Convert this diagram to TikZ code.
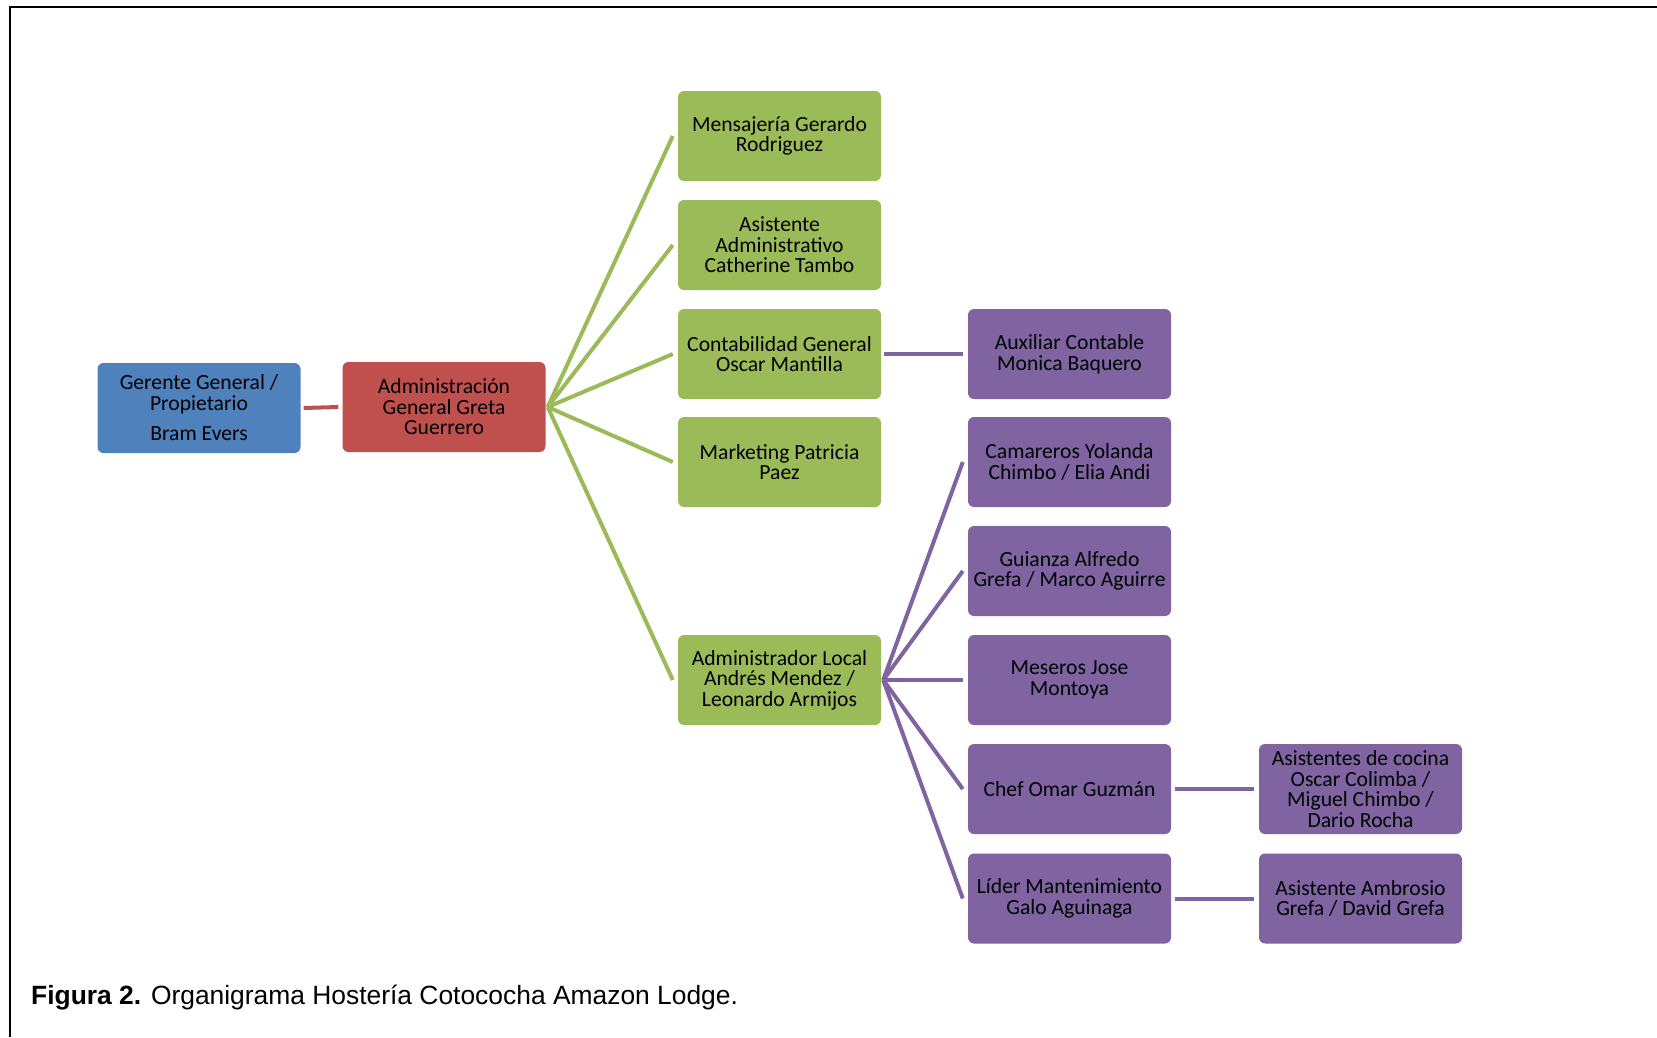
\documentclass[tikz,border=0pt]{standalone}
\usepackage{fontspec}
\setmainfont{Carlito}
\newfontfamily\capfont{Liberation Sans}
\usetikzlibrary{calc}

\definecolor{cblue}{HTML}{4F81BD}
\definecolor{cred}{HTML}{C0504D}
\definecolor{cgreen}{HTML}{9BBB59}
\definecolor{cpurple}{HTML}{8064A2}

\tikzset{
  orgbox/.style={rounded corners=6bp, minimum width=203bp, minimum height=90bp,
    inner xsep=0bp, inner ysep=2bp, align=center, text=black,
    font=\fontsize{21.7}{20.6}\selectfont},
  bluebox/.style={orgbox, fill=cblue},
  redbox/.style={orgbox, fill=cred},
  greenbox/.style={orgbox, fill=cgreen},
  purplebox/.style={orgbox, fill=cpurple},
  link/.style={line width=4bp},
  redlink/.style={link, draw=cred},
  greenlink/.style={link, draw=cgreen},
  purplelink/.style={link, draw=cpurple},
}

\begin{document}
\begin{tikzpicture}[x=1bp, y=-1bp]
\useasboundingbox (0,0) rectangle (1657,1037);

% frame (top and left edges only)
\draw[line width=2bp, black] (10.3,1037) -- (10.3,6.7) -- (1657,6.7);

% top levels
\node[bluebox] (ger) at (199,408) {Gerente General /\\ Propietario\\[10bp] Bram Evers};
\node[redbox]  (adm) at (444,407) {Administración\\ General Greta\\ Guerrero};

% second level
\node[greenbox] (men) at (779.5,136) {Mensajería Gerardo\\ Rodriguez};
\node[greenbox] (asi) at (779.5,245) {Asistente\\ Administrativo\\ Catherine Tambo};
\node[greenbox] (con) at (779.5,354) {Contabilidad General\\ Oscar Mantilla};
\node[greenbox] (mar) at (779.5,462) {Marketing Patricia\\ Paez};
\node[greenbox] (adl) at (779.5,680) {Administrador Local\\ Andrés Mendez /\\ Leonardo Armijos};

% third level
\node[purplebox] (aux) at (1069.5,354) {Auxiliar Contable\\ Monica Baquero};
\node[purplebox] (cam) at (1069.5,462) {Camareros Yolanda\\ Chimbo / Elia Andi};
\node[purplebox] (gui) at (1069.5,571) {Guianza Alfredo\\ Grefa / Marco Aguirre};
\node[purplebox] (mes) at (1069.5,680) {Meseros Jose\\ Montoya};
\node[purplebox] (che) at (1069.5,789) {Chef Omar Guzmán};
\node[purplebox] (lid) at (1069.5,898.5) {Líder Mantenimiento\\ Galo Aguinaga};

% fourth level
\node[purplebox] (aco) at (1360.5,789) {Asistentes de cocina\\ Oscar Colimba /\\ Miguel Chimbo /\\ Dario Rocha};
\node[purplebox] (aam) at (1360.5,898.5) {Asistente Ambrosio\\ Grefa / David Grefa};

% connectors
\draw[redlink] ($(ger.east)+(3,0)$) -- ($(adm.west)+(-4,0)$);

\foreach \t in {men,asi,con,mar,adl}
  \draw[greenlink] ($(adm.east)+(2,0)$) -- ($(\t.west)+(-5,0)$);

\draw[purplelink] ($(con.east)+(3,0)$) -- ($(aux.west)+(-5,0)$);

\foreach \t in {cam,gui,mes,che,lid}
  \draw[purplelink] ($(adl.east)+(2,0)$) -- ($(\t.west)+(-5,0)$);

\draw[purplelink] ($(che.east)+(4,0)$) -- ($(aco.west)+(-5,0)$);
\draw[purplelink] ($(lid.east)+(4,0)$) -- ($(aam.west)+(-5,0)$);

% caption
\node[anchor=base west, inner sep=0, font=\capfont\fontsize{26.5}{30}\selectfont] (cap) at (31,1004)
  {\textbf{Figura 2.} Organigrama Hostería Cotococha Amazon Lodge.};
\end{tikzpicture}
\end{document}
